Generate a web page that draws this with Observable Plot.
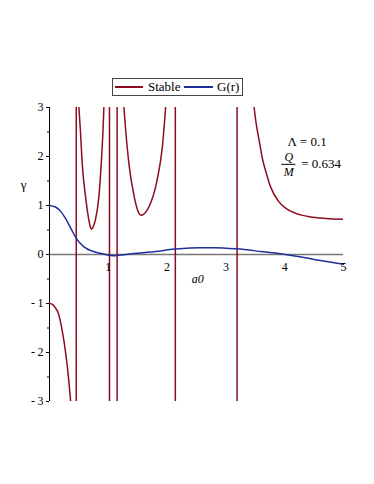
<!DOCTYPE html>
<html><head><meta charset="utf-8">
<script src="https://cdn.jsdelivr.net/npm/d3@7"></script>
<script src="https://cdn.jsdelivr.net/npm/@observablehq/plot@0.6"></script>
<style>
body{margin:0;background:#fff;font-family:"Liberation Serif","Times New Roman",serif;}
#wrap{width:374px;height:484px;position:relative;}
#legend{height:100px;position:relative;}
#legbox{position:absolute;left:112px;top:78px;width:129px;height:16px;border:1px solid #444;font-size:13px;color:#000;}
.sw{position:absolute;top:7px;height:1.5px;}
.lt{position:absolute;top:0px;line-height:16px;}
</style></head><body>
<div id="wrap">
<div id="legend"><div id="legbox">
<div class="sw" style="left:2px;width:28px;background:#8b0d1f"></div>
<div class="lt" style="left:35px">Stable</div>
<div class="sw" style="left:71px;width:29px;background:#1f2f9a"></div>
<div class="lt" style="left:104px">G(r)</div>
</div></div>
<div id="chart"></div>
</div>
<script>
const red = "#8b0d1f", blue = "#1f2f9a";
const xTicks = [1, 2, 3, 4, 5];
const yTicks = [-3, -2, -1, 0, 1, 2, 3];
const yMinor = [-2.5, -1.5, -0.5, 0.5, 1.5, 2.5];
const asymptotes = [0.455, 1.02, 1.15, 2.14, 3.19];

// Stable branches
const stableA_x = [0, 0.05, 0.1, 0.15, 0.2, 0.25, 0.3, 0.33, 0.36];
const stableA_y = [-1, -1.02, -1.09, -1.2, -1.45, -1.8, -2.25, -2.6, -3.0];
const stableB_x = [0.5, 0.525, 0.556, 0.613, 0.67, 0.695, 0.716, 0.74, 0.78, 0.84, 0.88, 0.91, 0.925];
const stableB_y = [3.0, 2.54, 1.86, 1.18, 0.70, 0.56, 0.516, 0.56, 0.70, 1.18, 1.86, 2.54, 3.0];
const stableC_x = [1.266, 1.295, 1.35, 1.44, 1.5, 1.56, 1.62, 1.69, 1.83, 1.92, 1.975];
const stableC_y = [3.0, 2.54, 1.86, 1.18, 0.9, 0.80, 0.84, 0.97, 1.52, 2.2, 3.0];
const stableD_x = [3.48, 3.51, 3.57, 3.62, 3.68, 3.76, 3.88, 4.02, 4.19, 4.42, 4.70, 5.0];
const stableD_y = [3.0, 2.71, 2.30, 1.96, 1.69, 1.38, 1.11, 0.94, 0.84, 0.77, 0.735, 0.72];

// G(r)
const gX = [0, 0.1, 0.19, 0.28, 0.36, 0.45, 0.58, 0.75, 0.92, 1.04, 1.12, 1.21, 1.3, 1.43, 1.72, 2.14, 2.57, 2.8, 3.18, 3.6, 4.01, 4.5, 5.0];
const gY = [1, 0.97, 0.88, 0.72, 0.54, 0.34, 0.16, 0.06, 0.01, -0.02, -0.025, -0.01, 0.0, 0.02, 0.05, 0.11, 0.14, 0.14, 0.115, 0.06, 0.0, -0.1, -0.2];

const stable = [];
[[stableA_x, stableA_y], [stableB_x, stableB_y], [stableC_x, stableC_y], [stableD_x, stableD_y]]
  .forEach(([xs, ys], k) => xs.forEach((x, i) => stable.push({seg: k, x, y: ys[i]})));
const G = gX.map((x, i) => ({x, y: gY[i]}));

const fmt = d => d < 0 ? "-\u2009" + (-d) : String(d);

const chart = Plot.plot({
  width: 374, height: 384,
  marginLeft: 49, marginRight: 31, marginTop: 7, marginBottom: 83,
  x: {domain: [0, 5], axis: null},
  y: {domain: [-3, 3], axis: null},
  style: {fontFamily: "'Liberation Serif','Times New Roman',serif", fontSize: "12px", background: "white", color: "black"},
  marks: [
    Plot.ruleY([0], {stroke: "#777", strokeWidth: 1.5}),
    Plot.axisY(yTicks, {tickSize: 3, tickPadding: 3, tickFormat: fmt, fontSize: 12, label: null}),
    Plot.axisY(yMinor, {tickSize: 2, tickFormat: () => "", label: null}),
    Plot.ruleX([0], {stroke: "black", strokeWidth: 1}),
    Plot.ruleX(asymptotes, {stroke: red, strokeWidth: 1.5}),
    Plot.line(stable, {x: "x", y: "y", z: "seg", stroke: red, strokeWidth: 1.5, curve: "monotone-x", clip: true}),
    Plot.line(G, {x: "x", y: "y", stroke: blue, strokeWidth: 1.5, curve: "monotone-x"}),
    Plot.text(xTicks, {x: d => d, y: 0, dy: 13, text: d => String(d), fontSize: 12}),
    Plot.text(["a0"], {x: 2.52, y: 0, dy: 25, text: d => d, fontStyle: "italic", fontSize: 12}),
    Plot.text(["\u03b3"], {x: 0, y: 1.43, dx: -26, text: d => d, fontSize: 13}),
    Plot.text(["\u039b = 0.1"], {x: 4.38, y: 2.3, text: d => d, fontSize: 13}),
    Plot.text(["Q"], {x: 4.07, y: 1.99, text: d => d, fontStyle: "italic", fontSize: 12}),
    Plot.ruleY([1.84], {x1: 3.95, x2: 4.19, stroke: "black", strokeWidth: 1}),
    Plot.text(["M"], {x: 4.07, y: 1.68, text: d => d, fontStyle: "italic", fontSize: 12}),
    Plot.text(["= 0.634"], {x: 4.28, y: 1.86, text: d => d, textAnchor: "start", fontSize: 13})
  ]
});
document.getElementById("chart").appendChild(chart);
</script>
</body></html>
